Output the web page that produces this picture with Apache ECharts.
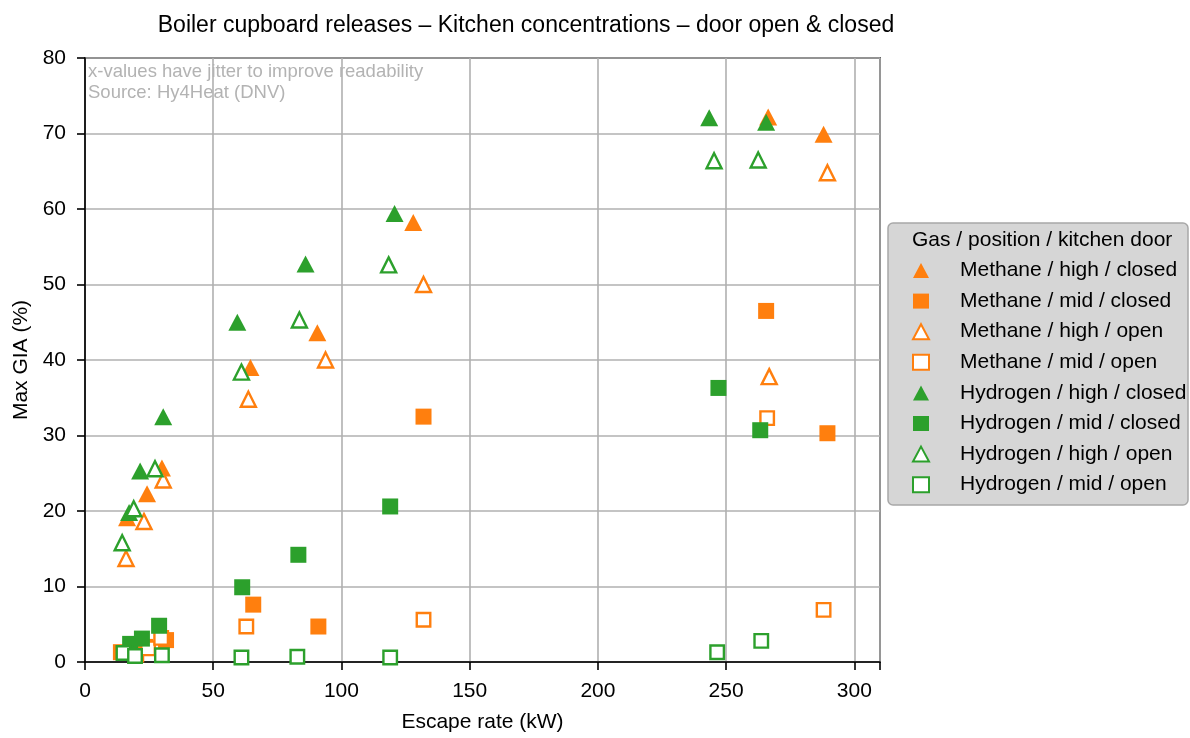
<!DOCTYPE html>
<html>
<head>
<meta charset="utf-8">
<script src="https://cdn.jsdelivr.net/npm/echarts@6/dist/echarts.min.js"></script>
<style>
  html, body { margin: 0; padding: 0; background: #fff; }
  #chart { width: 1190px; height: 738px; }
</style>
</head>
<body>
<div id="chart"></div>
<script>
// Escape rate (kW, jittered) and max gas-in-air concentration (%) per configuration
const methaneHighClosed = [[16.4, 19.1], [24.2, 22.3], [30.0, 25.7], [64.5, 39.0], [90.6, 43.6], [128.0, 58.2], [266.4, 72.2], [288.0, 69.9]];
const methaneMidClosed  = [[14.0, 1.3], [23.5, 2.0], [31.6, 2.9], [65.6, 7.6], [91.0, 4.7], [132.0, 32.5], [265.6, 46.5], [289.5, 30.3]];
const methaneHighOpen   = [[16.0, 13.7], [23.0, 18.6], [30.5, 24.1], [63.7, 34.8], [93.8, 40.0], [132.0, 50.0], [266.8, 37.8], [289.5, 64.8]];
const methaneMidOpen    = [[20.0, 1.0], [24.6, 1.8], [29.7, 3.2], [62.9, 4.7], [132.0, 5.6], [266.0, 32.3], [288.0, 6.9]];
const hydrogenHighClosed = [[17.2, 19.8], [21.5, 25.3], [30.5, 32.5], [59.4, 45.0], [86.0, 52.7], [120.7, 59.4], [243.4, 72.1], [265.6, 71.5]];
const hydrogenMidClosed  = [[17.6, 2.4], [22.2, 3.1], [28.9, 4.8], [61.3, 9.9], [83.2, 14.2], [119.0, 20.6], [247.0, 36.3], [263.3, 30.7]];
const hydrogenHighOpen   = [[14.5, 15.8], [19.0, 20.3], [27.3, 25.6], [61.0, 38.4], [83.6, 45.3], [118.4, 52.6], [245.3, 66.4], [262.5, 66.5]];
const hydrogenMidOpen    = [[15.0, 1.2], [19.5, 0.8], [30.0, 0.9], [61.0, 0.6], [82.8, 0.7], [119.0, 0.6], [246.5, 1.3], [263.7, 2.8]];

const xTicks = [0, 50, 100, 150, 200, 250, 300];
const yTicks = [0, 10, 20, 30, 40, 50, 60, 70, 80];

const ORANGE = '#ff7f0e';
const GREEN = '#2ca02c';
const FONT = '"Liberation Sans", Arial, sans-serif';

function makeSeries(name, data, color, shape, filled) {
  const isTri = shape === 'triangle';
  return {
    name: name,
    type: 'scatter',
    data: data,
    symbol: isTri ? 'triangle' : 'rect',
    symbolSize: isTri ? (filled ? [18, 17] : [15, 15]) : (filled ? 16 : 13.5),
    itemStyle: filled
      ? { color: color, opacity: 1 }
      : { color: '#ffffff', borderColor: color, borderWidth: 2.4, opacity: 1 },
    emphasis: { disabled: true }
  };
}

const series = [
  makeSeries('Methane / high / closed', methaneHighClosed, ORANGE, 'triangle', true),
  makeSeries('Methane / mid / closed', methaneMidClosed, ORANGE, 'square', true),
  makeSeries('Methane / high / open', methaneHighOpen, ORANGE, 'triangle', false),
  makeSeries('Methane / mid / open', methaneMidOpen, ORANGE, 'square', false),
  makeSeries('Hydrogen / high / closed', hydrogenHighClosed, GREEN, 'triangle', true),
  makeSeries('Hydrogen / mid / closed', hydrogenMidClosed, GREEN, 'square', true),
  makeSeries('Hydrogen / high / open', hydrogenHighOpen, GREEN, 'triangle', false),
  makeSeries('Hydrogen / mid / open', hydrogenMidOpen, GREEN, 'square', false)
];

const chart = echarts.init(document.getElementById('chart'), null, { renderer: 'canvas' });

chart.setOption({
  animation: false,
  backgroundColor: '#ffffff',
  textStyle: { fontFamily: FONT },
  title: {
    text: 'Boiler cupboard releases – Kitchen concentrations – door open & closed',
    left: 521,
    textAlign: 'center',
    top: 9,
    textStyle: { fontFamily: FONT, fontSize: 23, fontWeight: 'normal', color: '#000' }
  },
  grid: {
    left: 85, top: 58, width: 795, height: 611,
    show: true, borderColor: '#000', borderWidth: 1.6, backgroundColor: 'transparent'
  },
  xAxis: {
    type: 'value',
    min: 0, max: 310, interval: 50,
    name: 'Escape rate (kW)',
    nameLocation: 'middle',
    nameGap: 50,
    nameTextStyle: { fontFamily: FONT, fontSize: 21, color: '#000' },
    axisLine: { show: true, onZero: false, lineStyle: { color: '#000', width: 1.6 } },
    axisTick: { show: true, length: 8, lineStyle: { color: '#000', width: 1.6 } },
    axisLabel: {
      fontFamily: FONT, fontSize: 21, color: '#000', margin: 19,
      formatter: v => xTicks.includes(v) ? String(v) : ''
    },
    splitLine: { show: true, lineStyle: { color: '#b0b0b0', width: 1.6 } }
  },
  yAxis: {
    type: 'value',
    min: 0, max: 80, interval: 10,
    name: 'Max GIA (%)',
    nameLocation: 'middle',
    nameGap: 52,
    nameRotate: 90,
    nameTextStyle: { fontFamily: FONT, fontSize: 21, color: '#000' },
    axisLine: { show: true, onZero: false, lineStyle: { color: '#000', width: 1.6 } },
    axisTick: { show: true, length: 8, lineStyle: { color: '#000', width: 1.6 } },
    axisLabel: {
      fontFamily: FONT, fontSize: 21, color: '#000', margin: 19,
      formatter: v => yTicks.includes(v) ? String(v) : ''
    },
    splitLine: { show: true, lineStyle: { color: '#b0b0b0', width: 1.6 } }
  },
  legend: {
    orient: 'vertical',
    left: 912,
    top: 260,
    padding: 0,
    itemWidth: 16,
    itemHeight: 15,
    itemGap: 9.6,
    selectedMode: false,
    textStyle: { fontFamily: FONT, fontSize: 21, lineHeight: 21, color: '#000', padding: [0, 0, 0, 26] },
    data: series.map(s => s.name)
  },
  graphic: [
    {
      type: 'rect', z: -1, silent: true,
      shape: { x: 888, y: 223, width: 300, height: 282, r: 5 },
      style: { fill: '#d6d6d6', stroke: '#a8a8a8', lineWidth: 1.5 }
    },
    {
      type: 'text', silent: true, z: 10,
      left: 912, top: 230,
      style: { text: 'Gas / position / kitchen door', font: '21px ' + FONT, fill: '#000' }
    },
    {
      type: 'text', silent: true, z: 10,
      left: 88, top: 61,
      style: {
        text: 'x-values have jitter to improve readability\nSource: Hy4Heat (DNV)',
        font: '18.5px ' + FONT, fill: '#b3b3b3', lineHeight: 21.5
      }
    }
  ],
  series: series
});
</script>
</body>
</html>
